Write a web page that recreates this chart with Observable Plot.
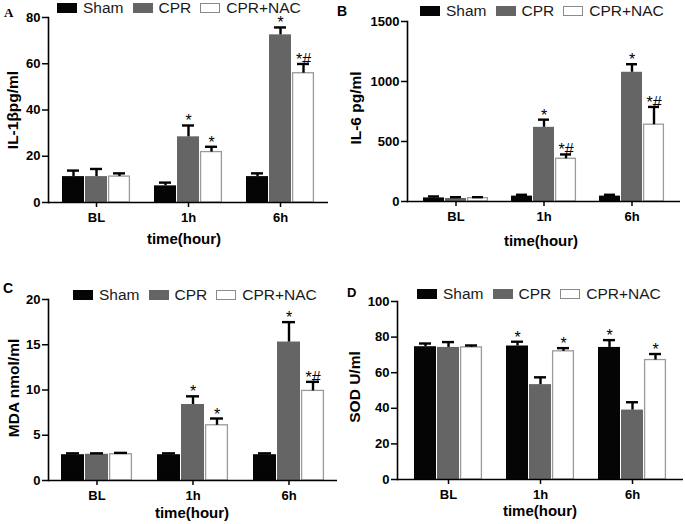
<!DOCTYPE html>
<html><head><meta charset="utf-8">
<script src="https://cdn.jsdelivr.net/npm/d3@7"></script>
<script src="https://cdn.jsdelivr.net/npm/@observablehq/plot@0.6"></script>
<style>
body{margin:0;background:#fff;}
#wrap{position:relative;width:685px;height:524px;overflow:hidden;font-family:"Liberation Sans",Arial,sans-serif;background:#fff;}
.panel{position:absolute;}
.abs{position:absolute;white-space:nowrap;line-height:1;}
.title{font-weight:bold;font-size:15px;color:#000;transform:translate(-50%,-50%);}
.ylab{font-weight:bold;font-size:15.5px;color:#000;transform:translate(-50%,-50%) rotate(-90deg);}
.leg{position:absolute;display:flex;align-items:center;height:16px;line-height:16px;font-size:15.5px;color:#1a1a1a;white-space:nowrap;}
.sw{display:inline-block;width:20px;height:10px;box-sizing:border-box;margin-right:6px;}
.item{display:flex;align-items:center;margin-right:9px;}
</style></head><body><div id="wrap"></div>
<script>
// ---- categories ----
const times = ["BL", "1h", "6h"];
const groups = ["Sham", "CPR", "CPR+NAC"];

// ---- values (time-major: BL Sham, BL CPR, BL NAC, 1h ..., 6h ...) ----
const il1bMean = [11.2, 11.2, 11.2, 7.2, 28.4, 21.8, 11.2, 72.5, 55.9];
const il1bErr  = [2.6, 3.3, 1.4, 1.4, 4.9, 2.3, 1.4, 3.2, 4.0];
const il1bSig  = ["", "", "", "", "*", "*", "", "*", "*#"];

const il6Mean = [30, 25, 28, 45, 618, 356, 45, 1077, 640];
const il6Err  = [12, 11, 8, 11, 64, 36, 11, 67, 148];
const il6Sig  = ["", "", "", "", "*", "*#", "", "*", "*#"];

const mdaMean = [2.85, 2.9, 2.9, 2.85, 8.4, 6.1, 2.85, 15.3, 9.9];
const mdaErr  = [0.15, 0.1, 0.15, 0.15, 0.9, 0.75, 0.15, 2.2, 1.0];
const mdaSig  = ["", "", "", "", "*", "*", "", "*", "*#"];

const sodMean = [74.6, 74.2, 74.2, 75.0, 53.3, 72.0, 74.2, 39.0, 67.1];
const sodErr  = [1.8, 3.0, 1.1, 2.4, 4.1, 1.8, 4.1, 4.4, 3.4];
const sodSig  = ["", "", "", "*", "", "*", "*", "", "*"];

// ---- tick labels ----
const il1bTicks = [0, 20, 40, 60, 80];
const il6Ticks = [0, 500, 1000, 1500];
const mdaTicks = [0, 5, 10, 15, 20];
const sodTicks = [0, 20, 40, 60, 80, 100];

const colors = ["#050505", "#656565", "#ffffff"];

const wrap = document.getElementById("wrap");

function addDiv(cls, text, left, top, extra) {
  const d = document.createElement("div");
  d.className = "abs " + cls;
  d.textContent = text;
  d.style.left = left + "px";
  d.style.top = top + "px";
  if (extra) Object.assign(d.style, extra);
  wrap.appendChild(d);
  return d;
}

function addLegend(left, top) {
  const leg = document.createElement("div");
  leg.className = "leg";
  leg.style.left = left + "px";
  leg.style.top = top + "px";
  groups.forEach((g, i) => {
    const it = document.createElement("span");
    it.className = "item";
    const sw = document.createElement("span");
    sw.className = "sw";
    sw.style.background = colors[i];
    if (i === 2) sw.style.border = "1px solid #8a8a8a";
    it.appendChild(sw);
    it.appendChild(document.createTextNode(g));
    leg.appendChild(it);
  });
  wrap.appendChild(leg);
}

function makePanel(cfg) {
  const rows = times.flatMap((t, i) => groups.map((g, j) => ({
    time: t, group: g, key: t + "|" + g,
    mean: cfg.mean[i * 3 + j], err: cfg.err[i * 3 + j], sig: cfg.sig[i * 3 + j]
  })));
  const domain = [];
  times.forEach((t, i) => {
    groups.forEach(g => domain.push(t + "|" + g));
    if (i < times.length - 1) domain.push("gap" + i);
  });
  const chart = Plot.plot({
    width: cfg.w, height: cfg.h,
    marginLeft: cfg.ml, marginRight: cfg.mr, marginTop: cfg.mt, marginBottom: cfg.mb,
    style: {fontFamily: "'Liberation Sans', Arial, sans-serif", fontSize: "13px", fontWeight: "bold", color: "#000", background: "transparent", overflow: "visible"},
    x: {type: "band", domain, paddingInner: 0.06, paddingOuter: 0.5, axis: null},
    y: {domain: [0, cfg.ticks[cfg.ticks.length - 1]], axis: null},
    color: {domain: groups, range: colors},
    marks: [
      Plot.barY(rows, {x: "key", y: "mean", fill: "group"}),
      Plot.barY(rows.filter(d => d.group === "CPR+NAC"), {x: "key", y: "mean", fill: "none", stroke: "#9a9a9a", strokeWidth: 1.3, insetLeft: 0.6, insetRight: 0.6}),
      Plot.ruleX(rows, {x: "key", y1: "mean", y2: d => d.mean + d.err, stroke: "#000", strokeWidth: 2.4}),
      Plot.tickY(rows, {x: "key", y: d => d.mean + d.err, stroke: "#000", strokeWidth: 2.4, insetLeft: 5, insetRight: 5}),
      Plot.text(rows.filter(d => d.sig), {x: "key", y: d => d.mean + d.err, text: "sig", textAnchor: "middle", lineAnchor: "bottom", dy: 1, fontSize: 16, fontWeight: "normal", fill: "#000", stroke: "none"}),
      Plot.ruleY([0], {stroke: "#000", strokeWidth: 1.6}),
      Plot.frame({anchor: "left", stroke: "#000", strokeWidth: 1.6}),
      Plot.axisY({ticks: cfg.ticks, tickFormat: d => String(d), tickSize: 6, tickPadding: 2, label: null, strokeWidth: 1.5}),
      Plot.axisX({ticks: times.map(t => t + "|CPR"), tickFormat: d => d.split("|")[0], tickSize: 5, tickPadding: 5, label: null, strokeWidth: 1.5})
    ]
  });
  const holder = document.createElement("div");
  holder.className = "panel";
  holder.style.left = cfg.left + "px";
  holder.style.top = cfg.top + "px";
  holder.appendChild(chart);
  wrap.appendChild(holder);
}

makePanel({mean: il1bMean, err: il1bErr, sig: il1bSig, ticks: il1bTicks, left: 0, top: 0, w: 340, h: 250, ml: 48, mr: 12, mt: 17, mb: 48});
makePanel({mean: il6Mean, err: il6Err, sig: il6Sig, ticks: il6Ticks, left: 340, top: 0, w: 345, h: 250, ml: 67, mr: 5, mt: 21, mb: 49});
makePanel({mean: mdaMean, err: mdaErr, sig: mdaSig, ticks: mdaTicks, left: 0, top: 260, w: 345, h: 264, ml: 48, mr: 8, mt: 39, mb: 44});
makePanel({mean: sodMean, err: sodErr, sig: sodSig, ticks: sodTicks, left: 340, top: 260, w: 345, h: 264, ml: 57, mr: 2, mt: 41, mb: 45});

// panel letters
addDiv("", "A", 4, 6, {fontFamily: "'Liberation Serif', 'Times New Roman', serif", fontWeight: "bold", fontSize: "13px"});
addDiv("", "B", 337, 4, {fontWeight: "bold", fontSize: "14px"});
addDiv("", "C", 3, 281, {fontWeight: "bold", fontSize: "14px"});
addDiv("", "D", 347, 286, {fontWeight: "bold", fontSize: "13px"});

// y labels
addDiv("ylab", "IL-1βpg/ml", 13, 110);
addDiv("ylab", "IL-6 pg/ml", 356, 108);
addDiv("ylab", "MDA nmol/ml", 14, 388);
addDiv("ylab", "SOD U/ml", 355, 387);

// x titles
addDiv("title", "time(hour)", 184, 238);
addDiv("title", "time(hour)", 541, 240);
addDiv("title", "time(hour)", 192, 512);
addDiv("title", "time(hour)", 540, 510);

// legends
addLegend(57, 0);
addLegend(420, 3);
addLegend(73, 287);
addLegend(417, 286);
</script></body></html>
